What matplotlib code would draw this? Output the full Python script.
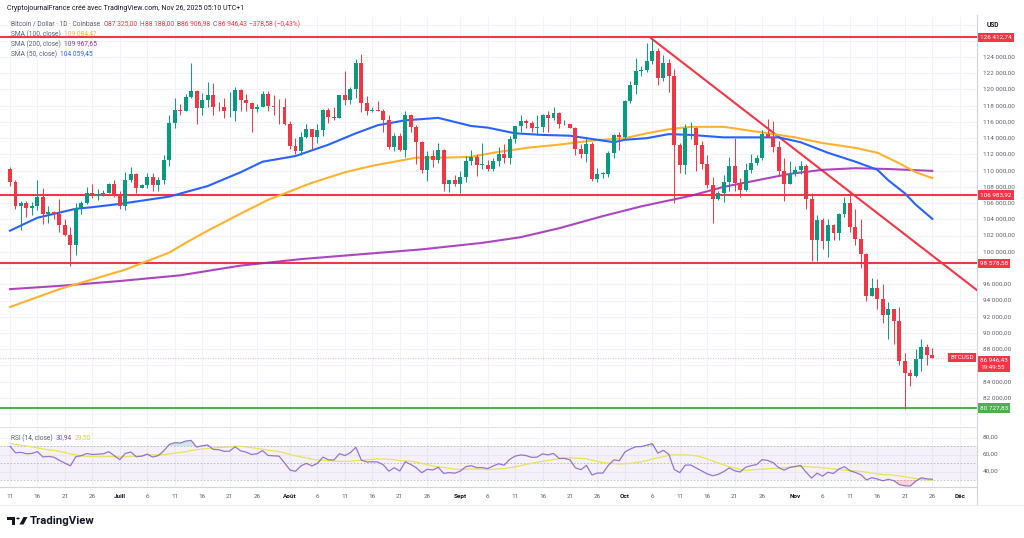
import numpy as np
import pandas as pd
import matplotlib
matplotlib.use("Agg")
import matplotlib.pyplot as plt
import matplotlib.transforms as mtransforms
from matplotlib.patches import Rectangle, Circle, Polygon
from matplotlib.lines import Line2D

plt.rcParams['font.family'] = ['Roboto', 'DejaVu Sans']

# ---- BTCUSD daily candles (Coinbase), 11 Jun -> 26 Nov 2025, in k USD ----
FIRST_DAY = "2025-06-11"

opens = [
    110.2, 108.6, 105.7, 106.0, 105.4, 105.6, 106.8, 104.6, 104.9, 104.6, 103.3, 102.1, 100.9, 105.4, 106.0, 107.3, 106.9, 107.1, 107.3, 108.4,
    107.1, 105.7, 108.8, 109.6, 107.9, 108.2, 109.2, 108.2, 108.9, 111.3, 115.9, 117.5, 117.4, 119.1, 119.8, 117.7, 118.7, 119.3, 117.9, 117.8, 117.3, 117.4, 119.9, 118.7, 118.3, 117.6, 117.9, 119.4, 118.0, 117.9, 117.8,
    115.8, 113.0, 112.4, 114.2, 115.1, 114.1, 115.0, 117.5, 116.6, 116.5, 119.3, 118.7, 120.1, 123.3, 118.3, 117.4, 117.5, 117.4, 116.2, 112.9, 114.3, 112.5, 116.9, 115.4, 113.5, 110.1, 111.8, 111.3, 112.6, 108.4, 108.8,
    108.3, 109.2, 111.2, 111.7, 110.7, 110.7, 110.2, 111.2, 112.1, 111.5, 113.9, 115.5, 116.1, 115.9, 115.3, 115.4, 116.8, 116.5, 117.1, 115.7, 115.7, 115.3, 112.7, 112.0, 113.3, 109.0, 109.6, 109.6, 112.2, 114.4,
    114.1, 118.6, 120.6, 122.3, 122.4, 123.5, 124.7, 121.4, 123.3, 121.7, 113.2, 110.7, 115.2, 115.3, 113.1, 110.8, 108.2, 106.5, 107.2, 108.6, 110.6, 108.5, 107.6, 110.1, 111.0, 111.6, 114.5, 114.1, 112.9, 110.0, 108.3,
    109.6, 110.1, 110.6, 106.5, 101.5, 103.9, 101.3, 103.3, 102.3, 104.7, 106.0, 103.0, 101.6, 99.7, 94.5, 95.6, 94.2, 92.2, 92.9, 91.5, 86.6, 85.1, 84.7, 86.8, 88.3, 87.325,
]
highs = [
    110.4, 108.8, 106.2, 106.2, 106.1, 108.9, 107.8, 105.6, 105.0, 106.5, 104.0, 103.0, 106.0, 106.3, 108.0, 108.3, 107.7, 107.6, 108.5, 108.8,
    107.5, 109.8, 110.5, 109.7, 108.4, 109.7, 109.7, 109.2, 111.9, 116.9, 118.9, 118.2, 119.5, 123.2, 119.9, 119.6, 120.9, 120.8, 118.5, 118.9, 119.7, 120.3, 120.1, 119.5, 118.4, 118.2, 119.8, 119.8, 119.3, 118.8, 118.9,
    116.1, 114.0, 114.7, 115.7, 115.1, 115.7, 117.6, 117.7, 117.9, 119.3, 122.3, 120.3, 123.7, 124.4, 119.2, 117.9, 118.6, 117.6, 116.8, 114.6, 114.6, 117.4, 117.0, 115.6, 113.6, 112.4, 112.6, 113.4, 112.7, 108.9, 109.5,
    109.9, 111.8, 112.6, 112.0, 113.4, 111.3, 111.6, 112.9, 113.3, 114.3, 115.5, 116.8, 116.4, 116.1, 116.8, 117.0, 117.3, 117.9, 117.2, 116.3, 115.8, 115.4, 113.3, 114.0, 113.5, 110.3, 109.8, 112.4, 114.5, 114.8,
    118.7, 121.0, 123.9, 122.9, 125.7, 126.2, 125.1, 124.2, 123.8, 122.5, 113.4, 115.8, 116.0, 115.4, 113.6, 111.9, 109.2, 107.5, 109.5, 111.7, 114.0, 109.1, 111.0, 112.0, 111.9, 115.0, 116.4, 116.1, 113.6, 111.6, 111.2,
    110.6, 111.2, 110.8, 107.3, 104.5, 104.2, 104.0, 103.4, 104.8, 106.7, 107.5, 105.3, 104.0, 99.9, 96.8, 96.6, 96.0, 93.8, 92.9, 93.2, 87.5, 85.6, 88.0, 89.2, 88.7, 88.188,
]
lows = [
    108.1, 105.3, 102.7, 104.3, 104.5, 105.2, 103.4, 103.6, 104.0, 102.4, 101.9, 98.2, 99.6, 104.6, 105.9, 106.6, 106.4, 106.9, 107.2, 106.7,
    105.3, 105.1, 108.6, 107.3, 107.8, 107.8, 107.5, 107.5, 108.4, 110.6, 115.3, 116.9, 117.3, 118.9, 115.7, 116.9, 117.8, 116.8, 117.3, 116.5, 116.6, 116.1, 117.3, 117.3, 114.7, 117.2, 117.8, 117.4, 116.9, 115.8, 115.6,
    112.7, 112.1, 111.9, 114.0, 112.7, 113.4, 114.3, 115.9, 116.3, 116.5, 118.1, 118.2, 118.9, 117.2, 116.8, 117.2, 117.3, 114.7, 112.7, 112.4, 112.4, 111.7, 114.7, 110.8, 109.7, 108.7, 110.4, 110.9, 107.5, 107.4, 108.1,
    107.3, 108.6, 110.7, 109.3, 110.2, 110.0, 110.0, 110.6, 110.9, 110.8, 113.4, 114.8, 115.3, 114.8, 114.4, 114.8, 114.8, 116.3, 115.3, 115.6, 115.2, 111.9, 111.6, 111.1, 108.7, 108.6, 109.1, 109.2, 111.6, 112.6,
    113.9, 118.3, 119.4, 121.6, 122.2, 123.1, 120.6, 121.1, 119.7, 106.0, 109.7, 109.6, 113.9, 109.9, 110.2, 107.9, 103.5, 106.4, 106.1, 107.5, 107.5, 106.7, 107.5, 109.7, 110.7, 111.3, 114.1, 112.3, 109.3, 106.3, 108.3,
    109.4, 109.6, 105.3, 98.9, 98.9, 100.3, 99.3, 101.4, 101.4, 104.3, 102.5, 100.8, 98.0, 94.0, 94.5, 92.9, 91.2, 89.3, 88.6, 86.1, 80.6, 83.5, 84.6, 85.3, 86.1, 86.907,
]
closes = [
    108.6, 105.7, 106.0, 105.4, 105.6, 106.8, 104.6, 104.9, 104.6, 103.3, 102.1, 100.9, 105.4, 106.0, 107.3, 106.9, 107.1, 107.3, 108.4, 107.1,
    105.7, 108.8, 109.6, 107.9, 108.2, 109.2, 108.2, 108.9, 111.3, 115.9, 117.5, 117.4, 119.1, 119.8, 117.7, 118.7, 119.3, 117.9, 117.8, 117.3, 117.4, 119.9, 118.7, 118.3, 117.6, 117.9, 119.4, 118.0, 117.9, 117.8, 115.8,
    113.0, 112.4, 114.2, 115.1, 114.1, 115.0, 117.5, 116.6, 116.5, 119.3, 118.7, 120.1, 123.3, 118.3, 117.4, 117.5, 117.4, 116.2, 112.9, 114.3, 112.5, 116.9, 115.4, 113.5, 110.1, 111.8, 111.3, 112.6, 108.4, 108.8, 108.3,
    109.2, 111.2, 111.7, 110.7, 110.7, 110.2, 111.2, 112.1, 111.5, 113.9, 115.5, 116.1, 115.9, 115.3, 115.4, 116.8, 116.5, 117.1, 115.7, 115.7, 115.3, 112.7, 112.0, 113.3, 109.0, 109.6, 109.6, 112.2, 114.4, 114.1,
    118.6, 120.6, 122.3, 122.4, 123.5, 124.7, 121.4, 123.3, 121.7, 113.2, 110.7, 115.2, 115.3, 113.1, 110.8, 108.2, 106.5, 107.2, 108.6, 110.6, 108.5, 107.6, 110.1, 111.0, 111.6, 114.5, 114.1, 112.9, 110.0, 108.3, 109.6,
    110.1, 110.6, 106.5, 101.5, 103.9, 101.3, 103.3, 102.3, 104.7, 106.0, 103.0, 101.6, 99.7, 94.5, 95.6, 94.2, 92.2, 92.9, 91.5, 86.6, 85.1, 84.7, 86.8, 88.3, 87.3, 86.946,
]
# closes 20 May -> 10 Jun, only to warm up the RSI
prior_closes = [106.8, 109.7, 111.7, 107.3, 107.8, 109.0, 109.4, 108.9, 107.8, 105.6, 103.9,
                104.6, 105.7, 105.9, 105.4, 104.7, 101.6, 104.4, 105.6, 105.7, 110.3, 110.2]

# moving averages (day number from 11 Jun, k USD)
sma50_days = [0, 5, 12, 15, 20, 29, 36, 42, 46, 52, 58, 63, 67, 72, 78, 84, 87, 92, 97, 102, 106, 110, 112, 116, 120, 124, 130, 136, 140, 144, 149, 154, 158, 160, 163, 165, 168]
sma50_vals = [102.6, 104.2, 105.3, 105.5, 105.9, 106.8, 108.1, 109.8, 111.1, 111.8, 113.2, 114.6, 115.6, 116.2, 116.5, 115.5, 115.3, 114.6, 114.4, 114.3, 113.9, 113.5, 113.8, 114.0, 114.5, 114.4, 114.1, 114.1, 114.1, 113.5, 112.2, 111.1, 110.1, 108.8, 107.2, 105.8, 104.06]
sma100_days = [0, 9, 21, 24, 29, 32, 36, 42, 47, 55, 61, 66, 70, 74, 79, 84, 88, 94, 100, 106, 112, 116, 120, 124, 130, 136, 143, 148, 154, 158, 162, 165, 168]
sma100_vals = [93.2, 95.4, 97.8, 98.6, 99.9, 101.1, 102.6, 104.7, 106.4, 108.5, 109.8, 110.6, 111.1, 111.6, 111.6, 111.7, 112.2, 112.8, 113.2, 113.7, 114.0, 114.6, 115.1, 115.4, 115.4, 114.8, 114.1, 113.4, 112.8, 112.2, 110.9, 109.8, 109.08]
sma200_days = [0, 9, 20, 31, 42, 53, 64, 75, 86, 93, 100, 108, 115, 124, 130, 136, 142, 148, 154, 160, 168]
sma200_vals = [95.4, 95.8, 96.4, 97.1, 98.3, 99.1, 99.7, 100.3, 101.1, 101.8, 102.9, 104.4, 105.6, 106.9, 108.0, 108.8, 109.6, 110.1, 110.3, 110.2, 109.97]

red_levels = [126412.74, 106983.92, 98578.58]
green_level = 80727.83
last_price = 86946.43
trend_dates = ["2025-10-05 14:00", "2025-12-04 02:00"]
trend_prices = [126412.74, 95300]

tick_dates = ["2025-06-11", "2025-06-16", "2025-06-21", "2025-06-26", "2025-07-01", "2025-07-06", "2025-07-11",
              "2025-07-16", "2025-07-21", "2025-07-26", "2025-08-01", "2025-08-06", "2025-08-11", "2025-08-16",
              "2025-08-21", "2025-08-26", "2025-09-01", "2025-09-06", "2025-09-11", "2025-09-16", "2025-09-21",
              "2025-09-26", "2025-10-01", "2025-10-06", "2025-10-11", "2025-10-16", "2025-10-21", "2025-10-26",
              "2025-11-01", "2025-11-06", "2025-11-11", "2025-11-16", "2025-11-21", "2025-11-26", "2025-12-01"]
tick_labels = ["11", "16", "21", "26", "Juill", "6", "11", "16", "21", "26", "Août", "6", "11", "16", "21", "26",
               "Sept", "6", "11", "16", "21", "26", "Oct", "6", "11", "16", "21", "26", "Nov", "6", "11", "16",
               "21", "26", "Déc"]
month_labels = {"Juill", "Août", "Sept", "Oct", "Nov", "Déc"}
# scale prices hidden under the coloured labels
hidden_ticks = {126000, 98000, 86000, 80000}

# ---- colours ----
UP = "#089981"
DOWN = "#f23645"
GREEN_LVL = "#4caf50"
BLUE = "#2962ff"
GOLD = "#ffb22e"
PURPLE = "#9c27b0"
RSI_COL = "#7e57c2"
RSI_MA = "#e8e35a"
GRID = "#f0f3fa"
TXT = "#131722"
GREY_TXT = "#5d606b"

o = np.array(opens) * 1000
h = np.array(highs) * 1000
l = np.array(lows) * 1000
c = np.array(closes) * 1000
n = len(c)
dates = pd.date_range(FIRST_DAY, periods=n, freq="D")
t0 = dates[0]


def dnum(s):
    return (pd.Timestamp(s) - t0) / pd.Timedelta(days=1)


def fr(v):
    return f"{v:,.2f}".replace(",", " ").replace(".", ",")


# RSI(14) + its 14-day SMA
allc = pd.Series(prior_closes + closes) * 1000
delta = allc.diff()
avg_g = delta.clip(lower=0).ewm(alpha=1 / 14, adjust=False).mean()
avg_l = (-delta.clip(upper=0)).ewm(alpha=1 / 14, adjust=False).mean()
rsi_all = 100 - 100 / (1 + avg_g / avg_l)
rsi_ma_all = rsi_all.rolling(14, min_periods=1).mean()
rsi = rsi_all.iloc[-n:].to_numpy()
rsi_ma = rsi_ma_all.iloc[-n:].to_numpy()

# ---- layout (pixels of the 1024x538 image) ----
W, H = 1024, 538
PX_DAY, X0 = 5.49, 10.0        # candle spacing and x of first candle
Y124, PX_PRICE = 57.0, 123.2   # y of 124 000 and USD per pixel
AX_L, AX_R = 0, 977
MAIN_T, MAIN_B = 17, 425
RSI_T, RSI_B = 428, 487

fig = plt.figure(figsize=(W / 100, H / 100), dpi=100, facecolor="white")
ax = fig.add_axes([AX_L / W, 1 - MAIN_B / H, (AX_R - AX_L) / W, (MAIN_B - MAIN_T) / H])
axr = fig.add_axes([AX_L / W, 1 - RSI_B / H, (AX_R - AX_L) / W, (RSI_B - RSI_T) / H], sharex=ax)

x = np.arange(n)
ax.set_xlim((AX_L - X0) / PX_DAY, (AX_R - X0) / PX_DAY)
ax.set_ylim(124000 - (MAIN_B - Y124) * PX_PRICE, 124000 - (MAIN_T - Y124) * PX_PRICE)
axr.set_ylim(30 - (RSI_B - 480) / 0.85, 70 + (446 - RSI_T) / 0.85)

for a in (ax, axr):
    for s in a.spines.values():
        s.set_visible(False)
    a.tick_params(length=0)
    a.set_yticks([])

tick_x = [dnum(d) for d in tick_dates]
for tx in tick_x:
    ax.axvline(tx, color=GRID, lw=0.8, zorder=0)
    axr.axvline(tx, color=GRID, lw=0.8, zorder=0)
for p in range(80000, 128001, 2000):
    ax.axhline(p, color=GRID, lw=0.8, zorder=0)
for v in (40, 60, 80):
    axr.axhline(v, color=GRID, lw=0.8, zorder=0)

# horizontal levels + trend line
for lv in red_levels:
    ax.axhline(lv, color=DOWN, lw=1.5, zorder=2)
ax.axhline(green_level, color=GREEN_LVL, lw=1.5, zorder=2)
ax.plot([dnum(d) for d in trend_dates], trend_prices, color=DOWN, lw=1.5, zorder=2)
ax.axhline(last_price, color=DOWN, lw=0.6, ls=(0, (1, 2)), alpha=0.5, zorder=1)

# moving averages
ax.plot(sma200_days, np.array(sma200_vals) * 1000, color=PURPLE, lw=1.5, zorder=2.5, alpha=0.85)
ax.plot(sma100_days, np.array(sma100_vals) * 1000, color=GOLD, lw=1.5, zorder=2.5)
ax.plot(sma50_days, np.array(sma50_vals) * 1000, color=BLUE, lw=1.5, zorder=2.5)

# candles
col = np.where(c >= o, UP, DOWN)
ax.vlines(x, l, h, colors=col, lw=0.7, zorder=3)
body = np.maximum(np.abs(c - o), 100)
ax.bar(x, body, bottom=np.minimum(o, c), width=0.72, color=col, lw=0, zorder=4)

# RSI pane
axr.axhspan(30, 70, color=RSI_COL, alpha=0.08, lw=0, zorder=0.5)
for v in (70, 50, 30):
    axr.axhline(v, color="#787b86", lw=0.6, ls=(0, (2, 2)), alpha=0.5, zorder=1)
axr.fill_between(x, rsi, 30, where=rsi < 30, interpolate=True, color=DOWN, alpha=0.2, lw=0)
axr.fill_between(x, rsi, 70, where=rsi > 70, interpolate=True, color=UP, alpha=0.2, lw=0)
axr.plot(x, rsi_ma, color=RSI_MA, lw=0.9, zorder=2)
axr.plot(x, rsi, color=RSI_COL, lw=0.9, zorder=3, alpha=0.8)

# time axis
axr.set_xticks(tick_x)
axr.set_xticklabels(tick_labels, fontsize=4.6, color=GREY_TXT)
axr.tick_params(axis="x", pad=5)
for t in axr.get_xticklabels():
    if t.get_text() in month_labels:
        t.set_fontweight("bold")
        t.set_color(TXT)
plt.setp(ax.get_xticklabels(), visible=False)

# price scale
pt = mtransforms.offset_copy(mtransforms.blended_transform_factory(ax.transAxes, ax.transData),
                             fig=fig, x=6, y=0, units="dots")
for p in range(80000, 126001, 2000):
    if p in hidden_ticks:
        continue
    ax.text(1, p, fr(p), transform=pt, fontsize=4.6, color=GREY_TXT, ha="left", va="center",
            clip_on=False, zorder=5)
bt = mtransforms.offset_copy(mtransforms.blended_transform_factory(ax.transAxes, ax.transData),
                             fig=fig, x=3, y=0, units="dots")
for lv in red_levels:
    ax.text(1, lv, fr(lv), transform=bt, fontsize=4.6, color="white", ha="left", va="center",
            clip_on=False, zorder=6, bbox=dict(boxstyle="square,pad=0.35", fc=DOWN, ec="none"))
ax.text(1, green_level, fr(green_level), transform=bt, fontsize=4.6, color="white", ha="left",
        va="center", clip_on=False, zorder=6, bbox=dict(boxstyle="square,pad=0.35", fc=GREEN_LVL, ec="none"))
ax.text(1, last_price, fr(last_price) + "\n19:49:55", transform=bt, fontsize=4.6, color="white", ha="left",
        va="top", clip_on=False, zorder=6, linespacing=1.5,
        bbox=dict(boxstyle="square,pad=0.35", fc=DOWN, ec="none"))
lt = mtransforms.offset_copy(mtransforms.blended_transform_factory(ax.transAxes, ax.transData),
                             fig=fig, x=-3, y=0, units="dots")
ax.text(1, last_price, "BTCUSD", transform=lt, fontsize=4.6, color="white", ha="right", va="center",
        clip_on=False, zorder=6, bbox=dict(boxstyle="square,pad=0.35", fc=DOWN, ec="none"))

rt = mtransforms.offset_copy(mtransforms.blended_transform_factory(axr.transAxes, axr.transData),
                             fig=fig, x=6, y=0, units="dots")
for v in (40, 60, 80):
    axr.text(1, v, f"{v},00", transform=rt, fontsize=4.6, color=GREY_TXT, ha="left", va="center", clip_on=False)

# frame lines
fig.add_artist(Line2D([AX_R / W] * 2, [1 - 505 / H, 1 - 15 / H], color="#d1d4dc", lw=0.8))
fig.add_artist(Line2D([0, AX_R / W], [1 - 426.5 / H] * 2, color="#e0e3eb", lw=0.8))
fig.add_artist(Line2D([0, AX_R / W], [1 - RSI_B / H] * 2, color="#d1d4dc", lw=0.8))
fig.add_artist(Line2D([0, 1], [1 - 505 / H] * 2, color="#eceef2", lw=0.6))

# texts in the top-left corner
renderer = fig.canvas.get_renderer()


def chain(x0, y0, parts, size=4.8):
    xx = x0
    for txt, colr, gap in parts:
        t = fig.text(xx / W, 1 - y0 / H, txt, color=colr, fontsize=size, ha="left", va="center")
        xx = t.get_window_extent(renderer).x1 + gap


chain(7, 8, [("CryptojournalFrance créé avec TradingView.com, Nov 26, 2025 05:10 UTC+1", TXT, 0)], size=5)
chain(11, 24, [("Bitcoin / Dollar · 1D · Coinbase", GREY_TXT, 3),
               ("O", GREY_TXT, 0.5), ("87 325,00", DOWN, 2.5),
               ("H", GREY_TXT, 0.5), ("88 188,00", DOWN, 2.5),
               ("B", GREY_TXT, 0.5), ("86 906,98", DOWN, 2.5),
               ("C", GREY_TXT, 0.5), ("86 946,43", DOWN, 3),
               ("−378,58 (−0,43%)", DOWN, 0)])
chain(11, 34, [("SMA (100, close)", GREY_TXT, 3), ("109 084,47", GOLD, 0)])
chain(11, 44, [("SMA (200, close)", GREY_TXT, 3), ("109 967,65", PURPLE, 0)])
chain(11, 54, [("SMA (50, close)", GREY_TXT, 3), ("104 059,45", BLUE, 0)])
chain(11, 438, [("RSI (14, close)", GREY_TXT, 3), ("30,94", RSI_COL, 3), ("29,50", "#d6cf3a", 0)])
fig.text(987 / W, 1 - 25 / H, "USD", fontsize=4.8, color=TXT, ha="left", va="center", fontweight="bold")

# TradingView logo
tf = fig.transFigure
def P(px, py):
    return (px / W, 1 - py / H)
fig.add_artist(Rectangle(P(7, 519.5), 8 / W, 2.8 / H, transform=tf, color=TXT, lw=0))
fig.add_artist(Rectangle(P(11.5, 524.5), 3.5 / W, 7.5 / H, transform=tf, color=TXT, lw=0))
fig.add_artist(Circle(P(18, 518.5), 1.7 / W, transform=tf, color=TXT, lw=0))
fig.add_artist(Polygon([P(19.5, 524.5), P(23.5, 517), P(27.5, 517), P(23.5, 524.5)], closed=True,
                       transform=tf, color=TXT, lw=0))
fig.text(29.5 / W, 1 - 521 / H, "TradingView", fontsize=8.2, color=TXT, ha="left", va="center",
         fontweight="bold")

fig.savefig("out.png", dpi=100, facecolor="white")
